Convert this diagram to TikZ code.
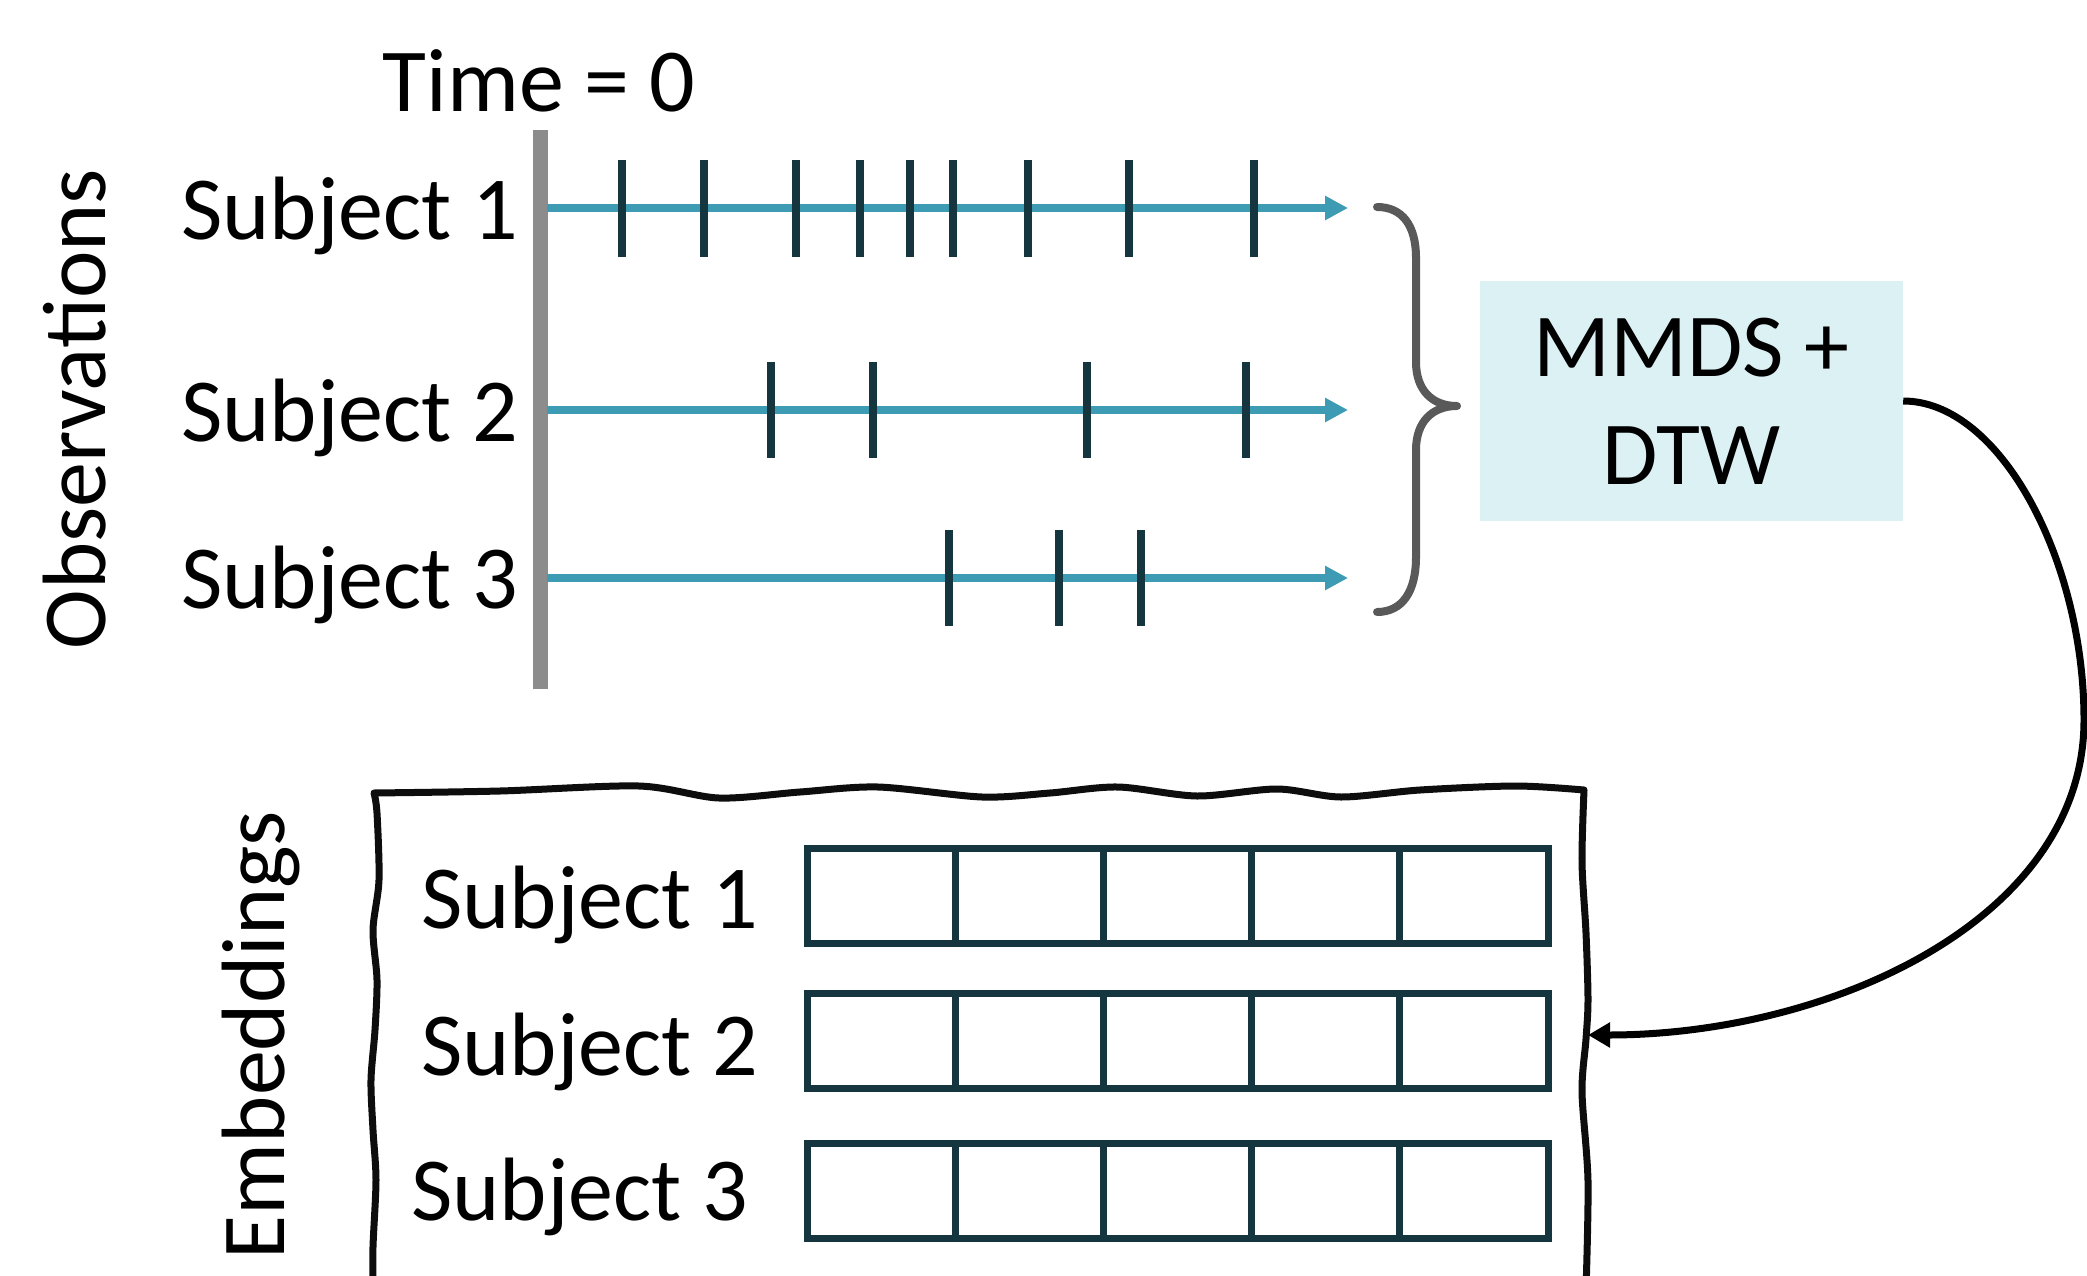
\documentclass[tikz,border=0pt]{standalone}
\usepackage{fontspec}
\setmainfont{Carlito}
\usepackage{tikz}
\usetikzlibrary{arrows.meta,positioning,calc}
\definecolor{tealln}{HTML}{3D9BB3}
\definecolor{tickc}{HTML}{16363F}
\definecolor{barc}{HTML}{8C8C8C}
\definecolor{bracec}{HTML}{595959}
\definecolor{boxfill}{HTML}{DCF1F4}

\begin{document}
\begin{tikzpicture}[x=1pt,y=-1pt,
  lab/.style={font=\fontsize{90}{108}\selectfont,inner sep=0pt},
  tl/.style={tealln,line width=8pt,-{Triangle[length=23pt,width=23pt]}},
  tk/.style={tickc,line width=7.5pt},
  cell/.style={tickc,line width=7pt},
  fr/.style={black!95,line width=7pt,line join=round,line cap=round},
  ar/.style={line width=7pt,-{Triangle[length=22pt,width=24pt]}}]
\useasboundingbox (0,0) rectangle (2087,1276);
\draw[barc,line width=15pt] (540,130) coordinate (bartop) -- (540,689) coordinate (barbot);
\node[lab,anchor=base] (t0) at (539,112) {Time = 0};
\node[lab,rotate=90,anchor=base] (obs) at (105,409) {Observations};
\foreach \y/\b/\n in {208/239/1,410/441/2,578/608/3}{
  \node[lab,anchor=base east] (o\n) at (518,\b) {Subject \n};
  \draw[tl] (547,\y) -- (1348,\y);
}
\foreach \x in {622,704,796,860,910,953,1028,1129,1254} \draw[tk] (\x,160) -- (\x,257);
\foreach \x in {771,873,1087,1246} \draw[tk] (\x,362) -- (\x,458);
\foreach \x in {949,1059,1141} \draw[tk] (\x,530) -- (\x,626);
\draw[bracec,line width=8pt,line cap=round,line join=round]
  (1377,207) .. controls (1402,207) and (1416,225) .. (1416,258) -- (1416,362)
  .. controls (1416,390) and (1432,406) .. (1457,406)
  .. controls (1432,406) and (1416,422) .. (1416,450) -- (1416,557)
  .. controls (1416,592) and (1402,612) .. (1377,612);
\node[lab,fill=boxfill,minimum width=423pt,minimum height=240pt,align=center] (mmds) at (1691.5,401) {MMDS +\\DTW};
\draw[fr] plot[smooth] coordinates {(373,1290) (373,1247) (376,1180) (373,1130) (371,1080) (375,1030) (377,980) (373,930) (379,880) (377,813) (374,793)}
  -- plot[smooth] coordinates {(374,793) (500,791) (639,786) (719,798) (800,792) (878,787) (982,797) (1050,793) (1118,787) (1197,796) (1277,789) (1341,797) (1420,790) (1516,786) (1584,790)}
  -- plot[smooth] coordinates {(1584,790) (1582,862) (1586,933) (1588,1000) (1586,1039) (1582,1092) (1588,1181) (1586,1290)};
\node[lab,rotate=90,anchor=base] (emb) at (284,1035) {Embeddings};
\node[lab,anchor=base east] (e1) at (758,928) {Subject 1};
\node[lab,anchor=base east] (e2) at (758,1075) {Subject 2};
\node[lab,anchor=base east] (e3) at (748,1220) {Subject 3};
\foreach \y in {848,993,1143}
  \foreach \c in {0,...,4}
    \draw[cell] ({807+148.2*\c},\y) rectangle ++(148.2,95);
\coordinate (embin) at (1588,1035);
\draw[ar] (mmds.east) .. controls (2000,401) and (2084,560) .. (2084,720)
  .. controls (2084,920) and (1829,1035) .. (embin);
\end{tikzpicture}
\end{document}
